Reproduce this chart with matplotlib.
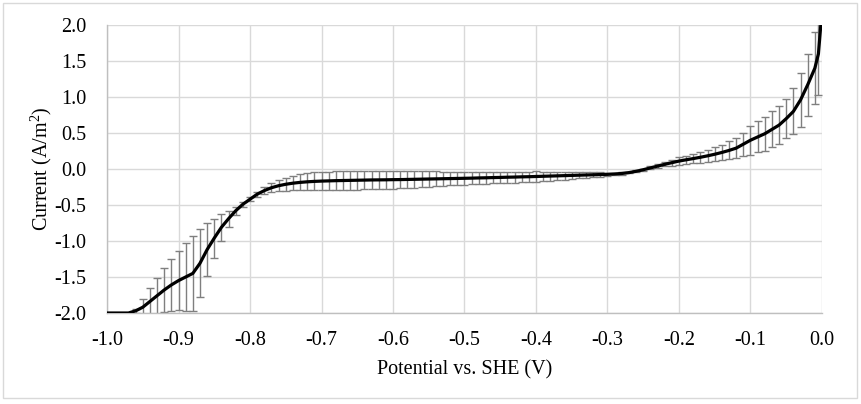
import matplotlib
matplotlib.use("Agg")
import matplotlib.pyplot as plt
from matplotlib.patches import Rectangle

plt.rcParams['font.family'] = ['Liberation Serif', 'DejaVu Serif']
plt.rcParams['axes.unicode_minus'] = False
plt.rcParams['mathtext.fontset'] = 'custom'
plt.rcParams['mathtext.rm'] = 'Liberation Serif'
plt.rcParams['mathtext.it'] = 'Liberation Serif:italic'

potential = [-1.00, -0.99, -0.98, -0.97, -0.96, -0.95, -0.94, -0.93, -0.92, -0.91,
             -0.90, -0.89, -0.88, -0.87, -0.86, -0.85, -0.84, -0.83, -0.82, -0.81,
             -0.80, -0.79, -0.78, -0.77, -0.76, -0.75, -0.74, -0.73, -0.72, -0.71,
             -0.70, -0.69, -0.68, -0.67, -0.66, -0.65, -0.64, -0.63, -0.62, -0.61,
             -0.60, -0.59, -0.58, -0.57, -0.56, -0.55, -0.54, -0.53, -0.52, -0.51,
             -0.50, -0.49, -0.48, -0.47, -0.46, -0.45, -0.44, -0.43, -0.42, -0.41,
             -0.40, -0.39, -0.38, -0.37, -0.36, -0.35, -0.34, -0.33, -0.32, -0.31,
             -0.30, -0.29, -0.28, -0.27, -0.26, -0.25, -0.24, -0.23, -0.22, -0.21,
             -0.20, -0.19, -0.18, -0.17, -0.16, -0.15, -0.14, -0.13, -0.12, -0.11,
             -0.10, -0.09, -0.08, -0.07, -0.06, -0.05, -0.04, -0.03, -0.02, -0.01,
             -0.005, 0.00]

current = [-2.00, -2.00, -2.00, -2.00, -1.97, -1.92, -1.84, -1.76, -1.68, -1.61,
           -1.55, -1.50, -1.45, -1.31, -1.12, -0.96, -0.81, -0.69, -0.58, -0.49,
           -0.42, -0.35, -0.30, -0.26, -0.232, -0.212, -0.197, -0.186, -0.178, -0.172,
           -0.168, -0.165, -0.162, -0.160, -0.158, -0.156, -0.154, -0.152, -0.151, -0.150,
           -0.148, -0.147, -0.145, -0.143, -0.141, -0.139, -0.137, -0.135, -0.133, -0.131,
           -0.129, -0.127, -0.124, -0.122, -0.119, -0.117, -0.114, -0.112, -0.109, -0.107,
           -0.104, -0.101, -0.098, -0.095, -0.092, -0.089, -0.086, -0.083, -0.080, -0.077,
           -0.074, -0.069, -0.062, -0.050, -0.032, -0.010, 0.015, 0.040, 0.065, 0.088,
           0.110, 0.128, 0.145, 0.163, 0.183, 0.205, 0.230, 0.258, 0.290, 0.345,
           0.400, 0.445, 0.490, 0.550, 0.610, 0.700, 0.800, 0.960, 1.170, 1.400,
           1.600, 2.200]

error = [0.00, 0.00, 0.00, 0.00, 0.03, 0.12, 0.19, 0.25, 0.30, 0.36,
         0.415, 0.47, 0.52, 0.47, 0.37, 0.27, 0.19, 0.11, 0.055, 0.035,
         0.03, 0.035, 0.045, 0.06, 0.075, 0.09, 0.10, 0.11, 0.12, 0.125,
         0.13, 0.13, 0.13, 0.13, 0.13, 0.13, 0.13, 0.13, 0.13, 0.128,
         0.125, 0.122, 0.118, 0.115, 0.112, 0.108, 0.104, 0.100, 0.096, 0.093,
         0.090, 0.088, 0.086, 0.084, 0.082, 0.080, 0.078, 0.076, 0.074, 0.072,
         0.070, 0.066, 0.062, 0.058, 0.054, 0.050, 0.045, 0.040, 0.035, 0.030,
         0.025, 0.020, 0.015, 0.012, 0.012, 0.015, 0.020, 0.025, 0.030, 0.040,
         0.050, 0.055, 0.065, 0.075, 0.085, 0.095, 0.110, 0.125, 0.140, 0.160,
         0.200, 0.215, 0.235, 0.250, 0.260, 0.270, 0.320, 0.380, 0.430, 0.500,
         0.570, 0.000]

x_ticks = [-1.0, -0.9, -0.8, -0.7, -0.6, -0.5, -0.4, -0.3, -0.2, -0.1, 0.0]
x_tick_labels = ["-1.0", "-0.9", "-0.8", "-0.7", "-0.6", "-0.5", "-0.4", "-0.3", "-0.2", "-0.1", "0.0"]
y_ticks = [-2.0, -1.5, -1.0, -0.5, 0.0, 0.5, 1.0, 1.5, 2.0]
y_tick_labels = ["-2.0", "-1.5", "-1.0", "-0.5", "0.0", "0.5", "1.0", "1.5", "2.0"]

fig = plt.figure(figsize=(8.61, 4.04), dpi=100)
ax = fig.add_axes([107 / 861, 91 / 404, 715 / 861, 288 / 404])

ax.errorbar(potential, current, yerr=error, fmt='none', ecolor='#7f7f7f',
            elinewidth=1.0, capsize=3, capthick=1.0, zorder=2)
ax.plot(potential, current, color='black', linewidth=2.3, zorder=3,
        solid_capstyle='butt')

ax.set_xlim(-1.0, 0.0)
ax.set_ylim(-2.0, 2.0)
ax.set_xticks(x_ticks)
ax.set_xticklabels(x_tick_labels)
ax.set_yticks(y_ticks)
ax.set_yticklabels(y_tick_labels)
ax.tick_params(axis='both', length=0, labelsize=14.5, colors='black')
ax.tick_params(axis='x', pad=13)
ax.tick_params(axis='y', pad=15)

ax.grid(True, color='#d9d9d9', linewidth=1.0, zorder=0)
ax.set_axisbelow(True)
for s in ['top', 'right']:
    ax.spines[s].set_visible(False)
for s in ['left', 'bottom']:
    ax.spines[s].set_color('#bfbfbf')
    ax.spines[s].set_linewidth(1.0)

ax.set_xlabel("Potential vs. SHE (V)", fontsize=14.5, labelpad=7)
ax.set_ylabel("Current (A/m$^{2}$)", fontsize=14.5, labelpad=0)

fig.patches.append(Rectangle((3 / 861, 6 / 404), 854 / 861, 395 / 404, transform=fig.transFigure,
                             fill=False, edgecolor='#d9d9d9', linewidth=1.0))

fig.savefig("out.png", dpi=100)
